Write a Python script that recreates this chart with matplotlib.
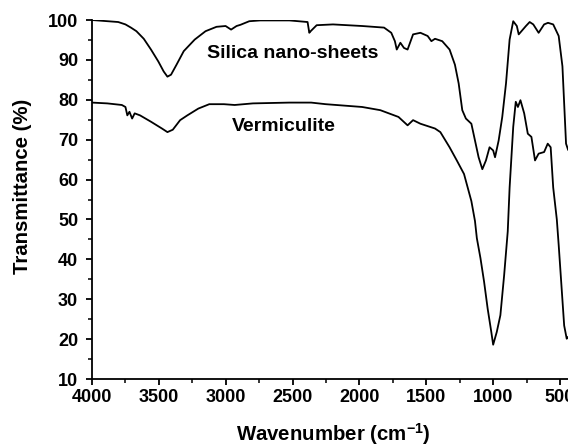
import matplotlib
matplotlib.use('Agg')
import matplotlib.pyplot as plt
from matplotlib.ticker import MultipleLocator

plt.rcParams['font.family'] = ['Liberation Sans', 'DejaVu Sans']
plt.rcParams['font.weight'] = 'bold'
plt.rcParams['mathtext.fontset'] = 'custom'
plt.rcParams['mathtext.bf'] = 'Liberation Sans:bold'
plt.rcParams['mathtext.rm'] = 'Liberation Sans:bold'

#=====================
# Datos leidos (FTIR)
#=====================
silica_w = [4000, 3804, 3750, 3709, 3668, 3613, 3559, 3504, 3464, 3436, 3409, 3368,
            3314, 3232, 3151, 3069, 3001, 2960, 2919, 2890, 2824, 2742, 2524, 2388,
            2375, 2365, 2320, 2198, 1980, 1816, 1762, 1735, 1721, 1694, 1667, 1640,
            1599, 1544, 1490, 1462, 1435, 1381, 1326, 1286, 1258, 1231, 1204, 1163,
            1136, 1109, 1081, 1054, 1027, 1000, 986, 959, 932, 904, 877, 850, 823,
            809, 755, 727, 700, 660, 619, 590, 551, 510, 482, 455, 440]
silica_t = [100, 99.5, 98.9, 98.1, 97.2, 95.3, 92.6, 89.6, 87.1, 85.8, 86.3, 88.8,
            92.2, 95.1, 97.2, 98.3, 98.5, 97.6, 98.5, 98.8, 99.7, 99.9, 99.9, 99.5,
            96.8, 97.2, 98.7, 98.9, 98.5, 98.1, 96.8, 94.7, 92.6, 94.3, 93.0, 92.6,
            96.4, 96.8, 96.0, 94.7, 95.3, 94.7, 92.6, 88.8, 84.1, 77.4, 75.3, 74.0,
            69.8, 65.6, 62.6, 64.8, 68.1, 67.3, 65.6, 69.8, 75.7, 84.1, 95.1, 99.7, 98.5,
            96.4, 98.5, 99.5, 98.9, 96.8, 98.9, 99.3, 98.9, 96.0, 88.4, 69.0, 67.5]

verm_w = [4000, 3886, 3777, 3750, 3736, 3720, 3700, 3681, 3641, 3559, 3477, 3436,
          3396, 3341, 3287, 3205, 3123, 3014, 2933, 2797, 2524, 2361, 2252, 1980,
          1844, 1708, 1640, 1599, 1544, 1435, 1395, 1326, 1272, 1218, 1163, 1136,
          1122, 1095, 1068, 1041, 1014, 1000, 973, 946, 918, 891, 877, 850, 831,
          815, 796, 768, 741, 714, 687, 660, 619, 592, 570, 551, 524, 510, 469,
          450, 440]
verm_t = [79.3, 79.1, 78.7, 78.2, 76.1, 77.0, 75.3, 76.6, 76.1, 74.5, 72.8, 71.9,
          72.5, 74.9, 76.1, 77.8, 78.9, 78.9, 78.7, 79.1, 79.3, 79.3, 78.9, 78.2,
          77.4, 75.7, 73.6, 74.9, 74.0, 72.8, 71.9, 68.1, 64.8, 61.4, 54.6, 49.6,
          45.3, 40.3, 34.4, 27.6, 21.8, 18.6, 21.8, 26.0, 36.0, 47.0, 58.0, 73.2, 79.5,
          78.2, 79.9, 76.6, 71.5, 70.7, 64.8, 66.5, 66.9, 69.0, 68.1, 58.0, 50.0, 43.6,
          23.4, 20.1, 20.5]

#==========
# Grafica
#==========
fig = plt.figure(figsize=(5.68, 4.48), dpi=100)
ax = fig.add_axes([0.162, 0.154, 0.8475, 0.8013])

ax.plot(silica_w, silica_t, color='black', lw=1.3)
ax.plot(verm_w, verm_t, color='black', lw=1.3)

ax.set_xlim(4000, 400)
ax.set_ylim(10, 100)
ax.xaxis.set_major_locator(MultipleLocator(500))
ax.xaxis.set_minor_locator(MultipleLocator(250))
ax.yaxis.set_major_locator(MultipleLocator(10))
ax.yaxis.set_minor_locator(MultipleLocator(5))
ax.set_xticks([4000, 3500, 3000, 2500, 2000, 1500, 1000, 500])

ax.spines['top'].set_visible(False)
ax.spines['right'].set_visible(False)
for s in ['left', 'bottom']:
    ax.spines[s].set_linewidth(1.3)
ax.tick_params(which='major', direction='out', length=4.5, width=1.3, labelsize=13)
ax.tick_params(which='minor', direction='out', length=2.9, width=1.1)
ax.tick_params(axis='x', which='major', pad=2.5)
ax.tick_params(axis='y', which='major', pad=5.5)
for lab in ax.get_xticklabels() + ax.get_yticklabels():
    lab.set_fontweight('bold')

# Titulos de ejes
fig.text(333 / 568, 1 - 441 / 448, r'Wavenumber (cm$^{\mathbf{-1}}$)', ha='center', va='baseline',
         fontsize=14.7, fontweight='bold')
fig.text(23 / 568, 1 - 186 / 448, 'Transmittance (%)', ha='center', va='center', rotation=90,
         fontsize=14.7, fontweight='bold')

# Etiquetas de las curvas
ax.text(2500, 91.7, 'Silica nano-sheets', ha='center', va='center', fontsize=14, fontweight='bold')
ax.text(2563, 73.4, 'Vermiculite', ha='center', va='center', fontsize=14, fontweight='bold')

fig.savefig('out.png', dpi=100)
